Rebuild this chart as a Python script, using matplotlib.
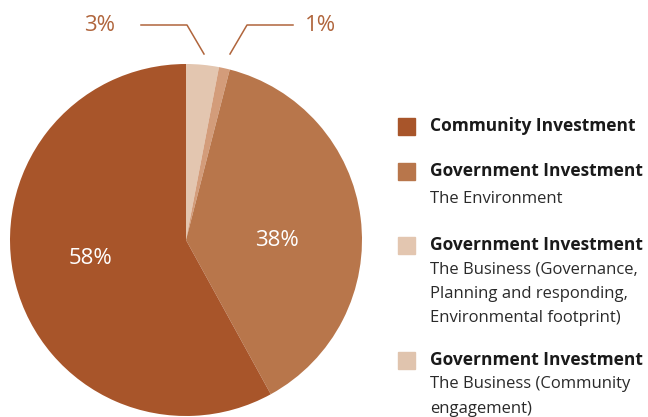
import matplotlib
matplotlib.use('Agg')
from matplotlib import pyplot as plt
from matplotlib.patches import Rectangle

shares = [3, 1, 38, 58]
slice_colors = ['#e3c6b0', '#d39c7a', '#b8764b', '#a8552a']
legend_titles = ['Community Investment', 'Government Investment',
                 'Government Investment', 'Government Investment']
legend_subs = [[], ['The Environment'],
               ['The Business (Governance,', 'Planning and responding,',
                'Environmental footprint)'],
               ['The Business (Community', 'engagement)']]
legend_colors = ['#a8552a', '#b8764b', '#e3c6b0', '#e0c4ae']

plt.rcParams['font.family'] = ['Open Sans', 'DejaVu Sans']

W, H = 648, 417
fig = plt.figure(figsize=(W / 100, H / 100), dpi=100)

# pie axes: centre ~ (186, 240) px, radius ~176 px
cx, cy, r = 186, 240, 176
ax = fig.add_axes([(cx - r) / W, (H - cy - r) / H, 2 * r / W, 2 * r / H])
wedges, _, autotexts = ax.pie(
    shares, colors=slice_colors, startangle=90, counterclock=False,
    autopct=lambda p: f'{p:.0f}%' if p > 10 else '', pctdistance=0.46,
    textprops=dict(color='white', fontsize=16),
    wedgeprops=dict(linewidth=0))
ax.set_xlim(-1, 1)
ax.set_ylim(-1, 1)
ax.set_aspect('equal')
ax.axis('off')

def px(x, y):
    return (x - cx) / r, (cy - y) / r

# nudge inner labels to where the original has them
autotexts[2].set_position(px(277, 241))
autotexts[3].set_position(px(90, 259))
for t in autotexts:
    t.set_va('center')

# outside labels for the two small slices
lc = '#b0653c'
pts = [px(141, 25), px(187, 25), px(204, 54)]
ax.plot([p[0] for p in pts], [p[1] for p in pts], color=lc, lw=1.1, clip_on=False)
pts = [px(293, 25), px(247, 25), px(230, 54)]
ax.plot([p[0] for p in pts], [p[1] for p in pts], color=lc, lw=1.1, clip_on=False)
tx, ty = px(99.5, 25.5)
ax.text(tx, ty, f'{shares[0]}%', color=lc, fontsize=16,
        ha='center', va='center')
tx, ty = px(320.5, 25.5)
ax.text(tx, ty, f'{shares[1]}%', color=lc, fontsize=16,
        ha='center', va='center')

# legend
ys = [126, 171, 245, 360]
for y, t, subs, c in zip(ys, legend_titles, legend_subs, legend_colors):
    fig.patches.append(Rectangle((398 / W, (H - y - 9) / H), 17 / W, 17 / H,
                                 transform=fig.transFigure, color=c))
    fig.text(430 / W, (H - y) / H, t, fontsize=12.5, fontweight='bold',
             color='#1a1a1a', va='center')
    first = 28 if len(subs) == 1 else 24.5
    for i, s in enumerate(subs):
        fig.text(430 / W, (H - y - first - 24.3 * i) / H, s, fontsize=12,
                 color='#2a2a2a', va='center')

fig.savefig('out.png', dpi=100)
